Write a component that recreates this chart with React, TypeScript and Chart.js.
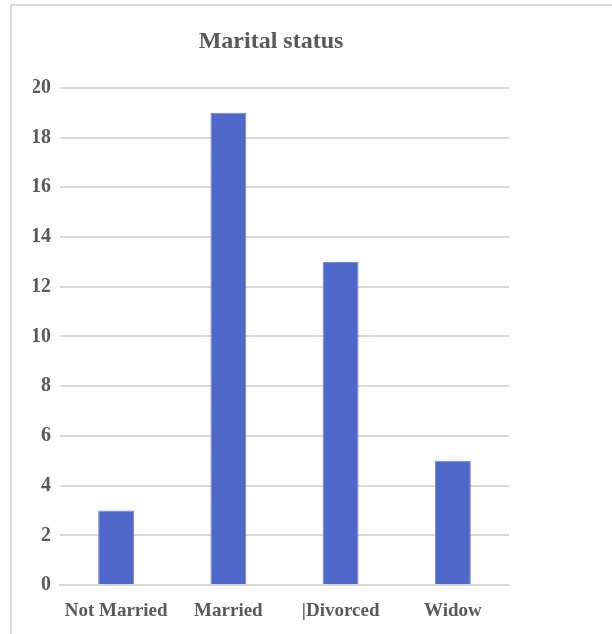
import React, { useEffect, useRef } from "react";
import { Chart, registerables } from "chart.js";

Chart.register(...registerables);

const categories = ["Not Married", "Married", "|Divorced", "Widow"];
const counts = [3, 19, 13, 5];
const chartTitle = "Marital status";

export default function App() {
  const ref = useRef<HTMLCanvasElement>(null);
  useEffect(() => {
    if (!ref.current) return;
    const font = "'Liberation Serif', 'Times New Roman', serif";
    const chart = new Chart(ref.current, {
      type: "bar",
      data: {
        labels: categories,
        datasets: [
          {
            data: counts,
            backgroundColor: "#4E67C8",
            borderColor: "#6F86DA",
            borderWidth: 1,
            categoryPercentage: 1,
            barPercentage: 0.32,
          },
        ],
      },
      options: {
        animation: false,
        responsive: false,
        maintainAspectRatio: false,
        layout: { padding: { left: 21, right: 23, top: 0, bottom: 10 } },
        plugins: {
          legend: { display: false },
          tooltip: { enabled: false },
          title: {
            display: true,
            text: chartTitle,
            color: "#595959",
            font: { family: font, size: 24, weight: "bold" },
            padding: { top: 21, bottom: 32 },
          },
        },
        scales: {
          x: {
            grid: { display: false, drawTicks: false },
            border: { display: true, color: "#D9D9D9", width: 2 },
            ticks: {
              color: "#595959",
              font: { family: font, size: 19, weight: "bold" },
              padding: 14,
              maxRotation: 0,
            },
          },
          y: {
            min: 0,
            max: 20,
            grid: { color: "#D9D9D9", lineWidth: 2, drawTicks: false },
            border: { display: false },
            afterFit: (scale: any) => {
              scale.width = 27;
            },
            ticks: {
              stepSize: 2,
              color: "#595959",
              font: { family: font, size: 20, weight: "bold" },
              padding: 9,
            },
          },
        },
      },
    });
    return () => chart.destroy();
  }, []);
  return (
    <div
      style={{
        position: "fixed",
        left: 10,
        top: 4,
        width: 640,
        height: 660,
        border: "2px solid #D9D9D9",
        background: "#fff",
      }}
    >
      <canvas ref={ref} width={520} height={640} style={{ display: "block" }} />
    </div>
  );
}
